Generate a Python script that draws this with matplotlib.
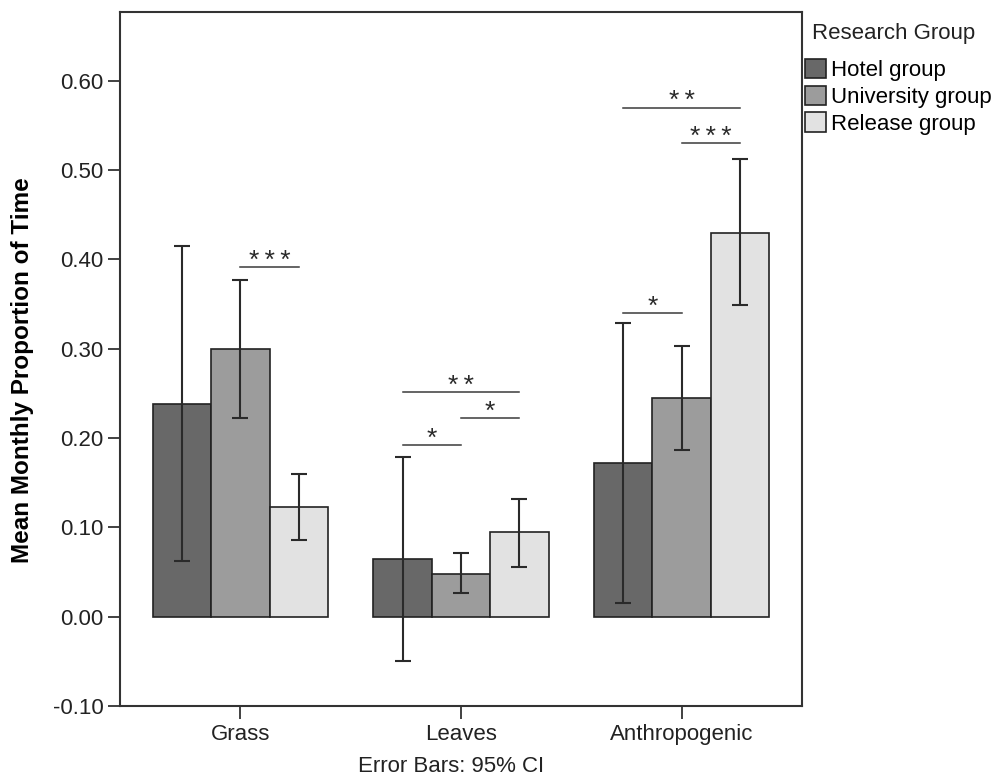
import numpy as np
import matplotlib.pyplot as plt
from matplotlib.patches import Patch
from matplotlib.ticker import FormatStrFormatter

plt.rcParams['font.family'] = ['Liberation Sans', 'DejaVu Sans']
plt.rcParams['axes.unicode_minus'] = False

# Food categories and research groups
categories = ["Grass", "Leaves", "Anthropogenic"]
groups = ["Hotel group", "University group", "Release group"]
colors = ["#686868", "#9c9c9c", "#e2e2e2"]

# Mean monthly proportion of time with 95% CI bounds
hotel_mean = [0.238, 0.065, 0.172]
hotel_lo = [0.062, -0.050, 0.015]
hotel_hi = [0.415, 0.179, 0.329]

univ_mean = [0.300, 0.048, 0.245]
univ_lo = [0.222, 0.027, 0.187]
univ_hi = [0.377, 0.071, 0.303]

release_mean = [0.123, 0.095, 0.430]
release_lo = [0.086, 0.056, 0.349]
release_hi = [0.160, 0.132, 0.512]

means = [hotel_mean, univ_mean, release_mean]
lows = [hotel_lo, univ_lo, release_lo]
highs = [hotel_hi, univ_hi, release_hi]

# Pairwise significance: (category index, group a, group b, bracket height, stars)
sig_cat = [0, 1, 1, 1, 2, 2, 2]
sig_a = [1, 0, 1, 0, 0, 1, 0]
sig_b = [2, 2, 2, 1, 2, 2, 1]
sig_y = [0.391, 0.251, 0.222, 0.192, 0.570, 0.530, 0.340]
sig_n = [3, 2, 1, 1, 2, 3, 1]

fs = 16
width = 0.265
x = np.arange(len(categories))
offsets = [-width, 0, width]

fig = plt.figure(figsize=(9.98, 7.77), dpi=100)
ax = fig.add_axes([120 / 998, 1 - 706 / 777, 682 / 998, 694 / 777])

for i in range(3):
    m = np.array(means[i])
    err = np.vstack([m - np.array(lows[i]), np.array(highs[i]) - m])
    ax.bar(x + offsets[i], m, width, color=colors[i], edgecolor="#222222",
           linewidth=1.2, zorder=2)
    ax.errorbar(x + offsets[i], m, yerr=err, fmt="none", ecolor="#2a2a2a",
                elinewidth=1.5, capsize=5.5, capthick=1.5, zorder=3)

# significance brackets
for c, a, b, y, n in zip(sig_cat, sig_a, sig_b, sig_y, sig_n):
    x0 = c + offsets[a]
    x1 = c + offsets[b]
    ax.plot([x0, x1], [y, y], color="#3a3a3a", lw=1.1, zorder=3)
    stars = "\u2009".join(["*"] * n)
    ax.annotate(stars, ((x0 + x1) / 2, y), xytext=(0, -0.5), textcoords="offset points",
                ha="center", va="baseline", fontsize=19, color="#2a2a2a")

ax.set_xlim(-0.545, 2.545)
ax.set_ylim(-0.10, 0.677)
ax.set_yticks(np.arange(-0.1, 0.61, 0.1))
ax.yaxis.set_major_formatter(FormatStrFormatter("%.2f"))
ax.set_xticks(x)
ax.set_xticklabels(categories)
ax.tick_params(axis="both", labelsize=fs, color="#333333", length=9, width=1.3,
               labelcolor="#222222")
ax.tick_params(axis="x", pad=4)
ax.tick_params(axis="y", pad=3)
for s in ax.spines.values():
    s.set_linewidth(1.5)
    s.set_color("#333333")

ax.set_ylabel("Mean Monthly Proportion of Time", fontsize=17.5, fontweight="bold")
ax.yaxis.set_label_coords(-0.126, 0.484)

handles = [Patch(facecolor=colors[i], edgecolor="#222222", linewidth=1.2, label=groups[i])
           for i in range(3)]
leg = ax.legend(handles=handles, loc="upper left",
                bbox_to_anchor=(805 / 998, 1 - 59 / 777), bbox_transform=fig.transFigure,
                frameon=False, fontsize=fs, borderpad=0,
                borderaxespad=0, handlelength=0.95, handleheight=0.95,
                handletextpad=0.2, labelspacing=0.2)
fig.text(812 / 998, 1 - 33 / 777, "Research Group", ha="left", va="center",
         fontsize=fs, color="#222222")

fig.text(451 / 998, 1 - 767 / 777, "Error Bars: 95% CI", ha="center", va="center",
         fontsize=fs, color="#222222")

fig.savefig("out.png", dpi=100)
